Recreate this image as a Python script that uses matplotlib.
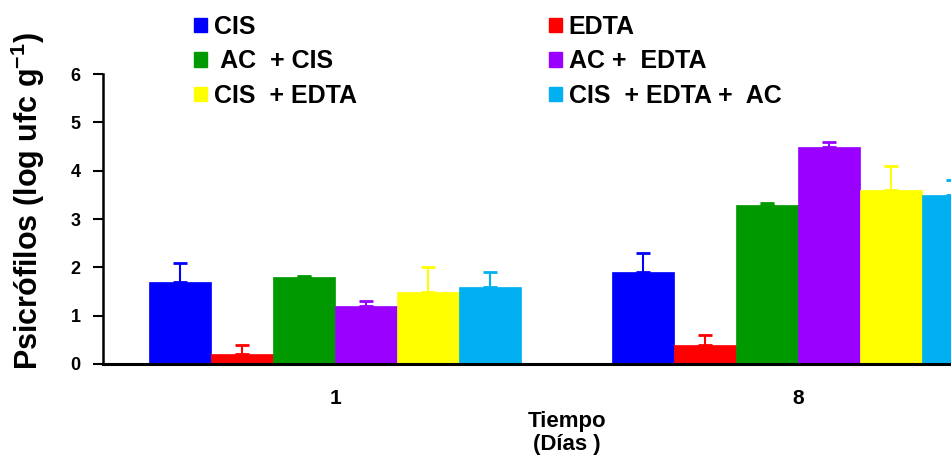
import matplotlib

matplotlib.use("Agg")
import matplotlib.pyplot as plt
import numpy as np
from matplotlib.patches import Patch

plt.rcParams["font.family"] = ["Liberation Sans", "DejaVu Sans"]
plt.rcParams["font.weight"] = "bold"
plt.rcParams["mathtext.default"] = "bf"

days = ["1", "8"]
series = ["CIS", "EDTA", " AC  + CIS", "AC +  EDTA", "CIS  + EDTA", "CIS  + EDTA +  AC"]
colors = ["#0000ff", "#ff0000", "#009900", "#9900ff", "#ffff00", "#00b0f0"]
means = [
    [1.7, 1.9],
    [0.2, 0.4],
    [1.8, 3.3],
    [1.2, 4.5],
    [1.5, 3.6],
    [1.6, 3.5],
]
errors = [
    [0.4, 0.4],
    [0.2, 0.2],
    [0.02, 0.04],
    [0.1, 0.1],
    [0.5, 0.5],
    [0.3, 0.3],
]

fig = plt.figure(figsize=(9.51, 4.55), dpi=100)
ax = fig.add_axes([103 / 951, 1 - 364 / 455, 1 - 103 / 951, 290 / 455])

x = np.arange(len(days))
width = 0.134
handles = []
for i, (name, col) in enumerate(zip(series, colors)):
    pos = x + (i - 2.5) * width
    ax.bar(pos, means[i], width, color=col, edgecolor=col, linewidth=0.5, zorder=2)
    ax.errorbar(pos, means[i], yerr=[np.zeros(len(days)), errors[i]], fmt="none",
                ecolor=col, elinewidth=1.5, capsize=5, capthick=2, zorder=3)
    handles.append(Patch(facecolor=col, edgecolor=col, label=name))

ax.set_xlim(-0.501, 1.33)
ax.set_ylim(0, 6)
ax.set_yticks(range(7))
ax.set_xticks(x)
ax.set_xticklabels(days)
ax.tick_params(axis="y", direction="out", length=7, width=1.5, labelsize=13, pad=9)
ax.tick_params(axis="x", length=0, labelsize=15, pad=18)
for s in ["top", "right"]:
    ax.spines[s].set_visible(False)
ax.spines["left"].set_linewidth(1.8)
ax.spines["bottom"].set_linewidth(2.2)

# y label placed by hand: it sits a bit higher than the axes centre
fig.text(28 / 951, 1 - 201 / 455, r"Psicrófilos (log ufc g$^{\mathregular{-1}}$)",
         rotation=90, ha="center", va="center", fontsize=22, fontweight="bold")
fig.text(567 / 951, 1 - 433 / 455, "Tiempo\n(Días )", ha="center", va="center",
         fontsize=16, fontweight="bold", linespacing=1.15)

order = [0, 2, 4, 1, 3, 5]
fig.legend([handles[k] for k in order], [series[k] for k in order], ncol=2,
           loc="upper left", bbox_to_anchor=(178 / 951, 1.003), frameon=False,
           fontsize=18, handlelength=0.52, handleheight=0.52, handletextpad=0.28,
           columnspacing=7.66, labelspacing=0.42, borderaxespad=0.25)

fig.savefig("out.png", dpi=100)
